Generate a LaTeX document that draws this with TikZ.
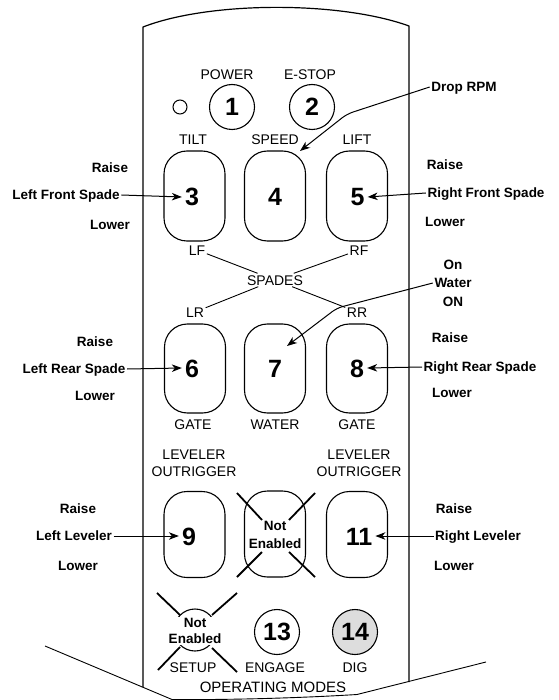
\documentclass[tikz,border=0pt]{standalone}
\usepackage{fontspec}
\setmainfont{Liberation Sans}
\usetikzlibrary{arrows.meta}

\begin{document}
\begin{tikzpicture}[x=1pt,y=-1pt]
\tikzset{
  casing/.style={line width=1.2pt, line join=round},
  rim/.style={line width=0.9pt},
  panel/.style={font=\fontsize{14}{16}\selectfont, inner sep=1.5pt, text height=10pt, text depth=0pt},
  note/.style={font=\bfseries\fontsize{13.5}{16}\selectfont, inner sep=1.5pt, text height=9.7pt, text depth=0pt},
  numtxt/.style={font=\bfseries\fontsize{25}{28}\selectfont, inner sep=3pt, text height=18pt, text depth=0pt},
  keybox/.style={draw, line width=1.1pt, rounded corners=23pt, minimum width=61pt, minimum height=#1, inner sep=0pt},
  roundkey/.style={draw, circle, line width=1.1pt, minimum size=45pt, inner sep=0pt,
    font=\bfseries\fontsize{25}{28}\selectfont},
  ptr/.style={-{Stealth[length=10pt,width=7.5pt,inset=3pt]}, line width=1pt},
  xmark/.style={line width=1.8pt},
  leader/.style={line width=0.9pt},
}
\useasboundingbox (0,0) rectangle (558,700);

% remote casing
\draw[casing] (143,687) -- (143,27) .. controls (210,1) and (340,1) .. (409,26) -- (409,682);
\draw[rim] (45,646) -- (172,699.5) .. controls (230,700) and (300,698) .. (357,694.5) -- (486,662);

% top row: indicator, power, e-stop
\node[draw, circle, line width=1pt, minimum size=14pt, inner sep=0pt] (led) at (180,107) {};
\node[roundkey] (k1) at (232,107) {1};
\node[roundkey] (k2) at (312,107) {2};
\node[panel] (lpower) at (227,75) {POWER};
\node[panel] (lestop) at (310,75) {E-STOP};

% first row of keys
\node[panel] (ltilt) at (193,140) {TILT};
\node[panel] (lspeed) at (275,140) {SPEED};
\node[panel] (llift) at (357,140) {LIFT};
\node[keybox=90pt] (k3) at (194.5,196) {};
\node[keybox=90pt] (k4) at (275,196) {};
\node[keybox=90pt] (k5) at (357,196) {};
\node[numtxt] (n3) at (192,197) {3};
\node[numtxt] (n4) at (275,197) {4};
\node[numtxt] (n5) at (357.5,197) {5};

% spade selector labels
\node[panel] (lf) at (197,250) {LF};
\node[panel] (rf) at (359,250) {RF};
\node[panel] (spades) at (275,280) {SPADES};
\node[panel] (lr) at (195,312) {LR};
\node[panel] (rr) at (357,312) {RR};
\draw[leader] (lf) -- (spades);
\draw[leader] (rf) -- (spades);
\draw[leader] (spades) -- (lr);
\draw[leader] (spades) -- (rr);

% second row of keys
\node[keybox=89pt] (k6) at (195,368.5) {};
\node[keybox=89pt] (k7) at (275,368.5) {};
\node[keybox=89pt] (k8) at (357,368.5) {};
\node[numtxt] (n6) at (192,368) {6};
\node[numtxt] (n7) at (275,368) {7};
\node[numtxt] (n8) at (357,368) {8};
\node[panel] (lgate1) at (193,424) {GATE};
\node[panel] (lwater) at (275,424) {WATER};
\node[panel] (lgate2) at (357,424) {GATE};

% third row of keys
\node[panel, align=center, font=\fontsize{14}{17}\selectfont] (llev1) at (194,471.5) {LEVELER\\OUTRIGGER};
\node[panel, align=center, font=\fontsize{14}{17}\selectfont] (llev2) at (359,471.5) {LEVELER\\OUTRIGGER};
\node[keybox=86pt] (k9) at (194.5,534.5) {};
\node[keybox=86pt] (k10) at (275,534) {};
\node[keybox=86pt] (k11) at (357,534.5) {};
\node[numtxt] (n9) at (189,536) {9};
\node[numtxt] (n11) at (359,536) {11};
\draw[xmark] (237,493) -- (262,520);
\draw[xmark] (315,493) -- (289,520);
\draw[xmark] (237,577) -- (262,552);
\draw[xmark] (315,577) -- (289,552);
\node[font=\bfseries\fontsize{13.5}{18}\selectfont, align=center, inner sep=1pt] (ne10) at (275,534.5) {Not\\Enabled};

% operating mode keys
\node[draw, circle, line width=1.1pt, minimum size=42pt, inner sep=0pt] (k12) at (195,630) {};
\draw[xmark] (157,593) -- (180,615);
\draw[xmark] (237,593) -- (212,615);
\draw[xmark] (158,670) -- (180,647);
\draw[xmark] (237,672) -- (212,648);
\node[fill=white, font=\bfseries\fontsize{13.5}{16}\selectfont, align=center, inner sep=1pt] (ne12) at (195,631) {Not\\Enabled};
\node[roundkey] (k13) at (277,632) {13};
\node[roundkey, fill={rgb,255:red,221;green,221;blue,221}] (k14) at (355,632) {14};
\node[panel] (lsetup) at (193,667) {SETUP};
\node[panel] (lengage) at (275,667) {ENGAGE};
\node[panel] (ldig) at (355,667) {DIG};
\node[panel, font=\fontsize{15}{17}\selectfont] (lmodes) at (273,687) {OPERATING MODES};

% callouts: speed key
\node[note] (rpm) at (464,87) {Drop RPM};
\coordinate (rpmbend) at (347,114);
\coordinate (rpmtip) at (300,151);
\draw[ptr, rounded corners=6pt] (rpm.west) -- (rpmbend) -- (rpmtip);

% callouts: front spades
\node[note] (lraise1) at (110,168) {Raise};
\node[note] (lfs) at (66,195) {Left Front Spade};
\node[note] (llower1) at (110,225) {Lower};
\draw[ptr] (lfs.east) -- (n3.west);
\node[note] (rraise1) at (445,165) {Raise};
\node[note] (rfs) at (486,193) {Right Front Spade};
\node[note] (rlower1) at (445,222) {Lower};
\draw[ptr] (rfs.west) -- (n5.east);

% callouts: water key
\node[note] (won) at (453,265) {On};
\node[note] (wwater) at (453,283) {Water};
\node[note] (wON) at (453,302) {ON};
\coordinate (wbend) at (337,308);
\coordinate (wtip) at (287,346);
\draw[ptr, rounded corners=6pt] (wwater.west) -- (wbend) -- (wtip);

% callouts: rear spades
\node[note] (lraise2) at (95,342) {Raise};
\node[note] (lrs) at (74,369) {Left Rear Spade};
\node[note] (llower2) at (95,396) {Lower};
\draw[ptr] (lrs.east) -- (n6.west);
\node[note] (rraise2) at (450,338) {Raise};
\node[note] (rrs) at (480,367) {Right Rear Spade};
\node[note] (rlower2) at (452,393) {Lower};
\draw[ptr] (rrs.west) -- (n8.east);

% callouts: levelers
\node[note] (lraise3) at (78,509) {Raise};
\node[note] (llev) at (74,536) {Left Leveler};
\node[note] (llower3) at (78,566) {Lower};
\draw[ptr] (llev.east) -- (n9.west);
\node[note] (rraise3) at (454,509) {Raise};
\node[note] (rlev) at (478,536) {Right Leveler};
\node[note] (rlower3) at (454,566) {Lower};
\draw[ptr] (rlev.west) -- (n11.east);
\end{tikzpicture}
\end{document}
